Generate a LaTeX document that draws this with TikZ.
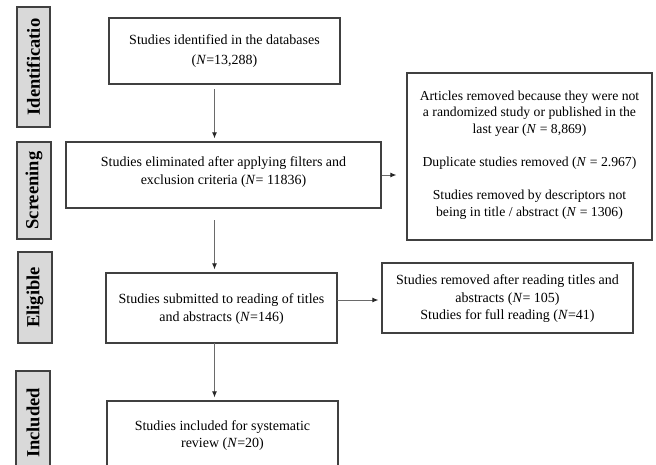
\documentclass[tikz,border=0pt]{standalone}
\usepackage{fontspec}
\setmainfont{Liberation Serif}
\usetikzlibrary{arrows.meta}
\definecolor{sidefill}{HTML}{D9D9D9}
\definecolor{edge}{HTML}{404040}
\definecolor{arrowc}{HTML}{6A6A6A}
\tikzset{
  stagebox/.style={draw=edge, line width=1.2pt, fill=sidefill, rotate=90, inner sep=0pt,
     font=\fontsize{18.5}{20}\selectfont\bfseries},
  flowbox/.style={draw=edge, line width=1.2pt, fill=white, inner sep=0pt},
  flowtext/.style={align=center, inner sep=0pt, font=\fontsize{14}{18}\selectfont},
  arr/.style={draw=arrowc, line width=1pt, -{Latex[length=6pt,width=5pt,color=black!85]}, shorten >=3pt},
}
\begin{document}
\begin{tikzpicture}[x=1pt,y=-1pt]
\useasboundingbox (0,0) rectangle (656,464);
\fill[white] (0,0) rectangle (656,464);

% stage labels
\node[stagebox, minimum width=120pt, minimum height=33pt] (sid) at (33.5,67) {Identificatio};
\node[stagebox, minimum width=97pt, minimum height=34pt] (sscr) at (34,190.5) {Screening};
\node[stagebox, minimum width=91pt, minimum height=34pt] (selig) at (35,297.5) {Eligible};
\node[stagebox, minimum width=104pt, minimum height=34pt] (sinc) at (33,423) {Included};

% flow boxes
\node[flowbox, minimum width=231pt, minimum height=66pt] (id) at (224.5,51) {};
\node[flowtext, font=\fontsize{14}{20}\selectfont] (idt) at (id.center) {Studies identified in the databases\\(\textit{N}=13,288)};

\node[flowbox, minimum width=315pt, minimum height=66pt] (scr) at (223.5,175) {};
\node[flowtext] (scrt) at (223.5,172) {Studies eliminated after applying filters and\\exclusion criteria (\textit{N}= 11836)};

\node[flowbox, minimum width=245pt, minimum height=167pt] (rm1) at (529.5,156.5) {};
\node[flowtext, font=\fontsize{13.7}{16.3}\selectfont] (rm1t) at (529.5,155) {Articles removed because they were not\\a randomized study or published in the\\last year (\textit{N} = 8,869)\\[17pt]Duplicate studies removed (\textit{N} = 2.967)\\[17pt]Studies removed by descriptors not\\being in title / abstract (\textit{N} = 1306)};

\node[flowbox, minimum width=231pt, minimum height=70pt] (elig) at (221.5,308) {};
\node[flowtext, font=\fontsize{14}{17.5}\selectfont] (eligt) at (221.5,309) {Studies submitted to reading of titles\\and abstracts (\textit{N}=146)};

\node[flowbox, minimum width=251pt, minimum height=70pt] (rm2) at (507.5,298) {};
\node[flowtext, font=\fontsize{14}{17.5}\selectfont] (rm2t) at (507.5,299) {Studies removed after reading titles and\\abstracts (\textit{N}= 105)\\Studies for full reading (\textit{N}=41)};

\node[flowbox, minimum width=231pt, minimum height=66pt] (inc) at (222.5,434) {};
\node[flowtext, font=\fontsize{14}{17}\selectfont] (inct) at (222.5,435.5) {Studies included for systematic\\review (\textit{N}=20)};

% connectors
\coordinate (a1) at (214.5,89);
\coordinate (a2) at (214.5,220);
\coordinate (a3) at (214.5,343);
\coordinate (a4) at (382,175);
\coordinate (a5) at (337,300);
\draw[arr] (a1) -- (a1|-scr.north);
\draw[arr] (a2) -- (a2|-elig.north);
\draw[arr] (a3) -- (a3|-inc.north);
\draw[arr, shorten >=10pt] (a4) -- (a4-|rm1.west);
\draw[arr] (a5) -- (a5-|rm2.west);
\end{tikzpicture}
\end{document}
